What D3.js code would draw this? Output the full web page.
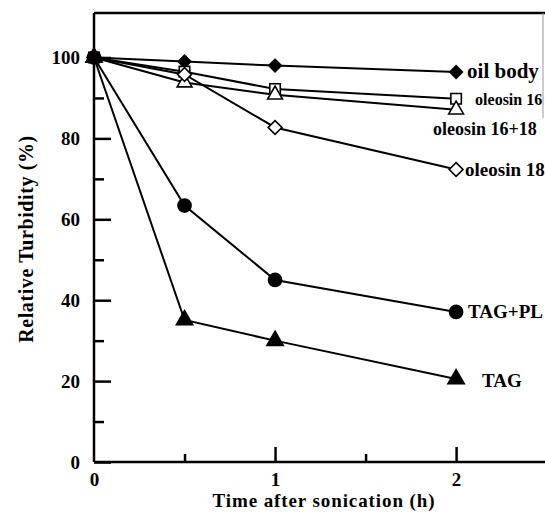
<!DOCTYPE html>
<html>
<head>
<meta charset="utf-8">
<script src="https://cdn.jsdelivr.net/npm/d3@7"></script>
<style>
  body { margin: 0; background: #fff; }
  svg { display: block; }
  text { font-family: 'Liberation Serif', 'Times New Roman', serif; font-weight: bold; fill: #000; }
  .axis path, .axis line { stroke: #000; stroke-width: 2.5; }
  .axis text { font-size: 19px; }
</style>
</head>
<body>
<div id="chart"></div>
<script>
// Time points (h)
var times = [0, 0.5, 1, 2]

// Relative turbidity (%) for each preparation
var oilBody = [100, 99, 98, 96.4]
var oleosin16 = [100, 96.5, 92.2, 89.8]
var oleosin1618 = [100, 93.8, 90.8, 87.1]
var oleosin18 = [100, 95.8, 82.7, 72.3]
var tagPl = [100, 63.4, 45, 37.1]
var tag = [100, 35.1, 30, 20.5]

var seriesNames = ['oil body', 'oleosin 16', 'oleosin 16+18', 'oleosin 18', 'TAG+PL', 'TAG']
var seriesValues = [oilBody, oleosin16, oleosin1618, oleosin18, tagPl, tag]

var yTicks = [0, 20, 40, 60, 80, 100]
var yMinorTicks = [10, 30, 50, 70, 90]
var xTicks = [0, 1, 2]
var xMinorTicks = [0.5, 1.5]

var width = 545
var height = 515

var svg = d3.select('#chart')
  .append('svg')
  .attr('width', width)
  .attr('height', height)

var xPositionScale = d3.scaleLinear().domain([0, 2.48]).range([94, 543])
var yPositionScale = d3.scaleLinear().domain([0, 111]).range([462, 13])

// Marker look + label placement per series (same order as seriesNames)
// diamonds are squares turned by 45 degrees
var styles = [
  { shape: d3.symbolSquare, rot: 45, size: 80, fill: '#000', dx: 11, dy: 6, fs: 21 },
  { shape: d3.symbolSquare, rot: 0, size: 110, fill: '#fff', dx: 19, dy: 6, fs: 16 },
  { shape: d3.symbolTriangle, rot: 0, size: 95, fill: '#fff', dx: -23, dy: 25, fs: 18 },
  { shape: d3.symbolSquare, rot: 45, size: 95, fill: '#fff', dx: 9, dy: 6, fs: 19 },
  { shape: d3.symbolCircle, rot: 0, size: 135, fill: '#000', dx: 12, dy: 6, fs: 19 },
  { shape: d3.symbolTriangle, rot: 0, size: 115, fill: '#000', dx: 26, dy: 8, fs: 19 }
]

var line = d3.line()
  .x((d, i) => xPositionScale(times[i]))
  .y(d => yPositionScale(d))

// frame: top edge and a faint right edge
svg.append('line')
  .attr('x1', xPositionScale(0)).attr('x2', 545)
  .attr('y1', yPositionScale(111)).attr('y2', yPositionScale(111))
  .attr('stroke', '#000').attr('stroke-width', 2.5)
svg.append('line')
  .attr('x1', 543).attr('x2', 543)
  .attr('y1', yPositionScale(111)).attr('y2', yPositionScale(85))
  .attr('stroke', '#999').attr('stroke-width', 1)

// axes
var yAxis = d3.axisLeft(yPositionScale).tickValues(yTicks).tickSize(-17).tickPadding(14)
svg.append('g')
  .attr('class', 'axis y-axis')
  .attr('transform', `translate(${xPositionScale(0)}, 0)`)
  .call(yAxis)
  .call(g => g.select('.domain').attr('d', `M0,${yPositionScale(0)}V${yPositionScale(111)}`))

svg.append('g')
  .attr('class', 'axis y-minor')
  .attr('transform', `translate(${xPositionScale(0)}, 0)`)
  .call(d3.axisLeft(yPositionScale).tickValues(yMinorTicks).tickSize(-10).tickFormat(''))
  .call(g => g.select('.domain').remove())

var xAxis = d3.axisBottom(xPositionScale)
  .tickValues(xTicks)
  .tickFormat(d3.format('d'))
  .tickSize(-15)
  .tickPadding(11)
svg.append('g')
  .attr('class', 'axis x-axis')
  .attr('transform', `translate(0, ${yPositionScale(0)})`)
  .call(xAxis)
  .call(g => g.select('.domain').attr('d', `M${xPositionScale(0)},0H545`))
  .call(g => g.selectAll('.tick').filter(d => d === 0).select('line').remove())

svg.append('g')
  .attr('class', 'axis x-minor')
  .attr('transform', `translate(0, ${yPositionScale(0)})`)
  .call(d3.axisBottom(xPositionScale).tickValues(xMinorTicks).tickSize(-8).tickFormat(''))
  .call(g => g.select('.domain').remove())

// lines
svg.selectAll('.series-line')
  .data(seriesValues)
  .enter()
  .append('path')
  .attr('class', 'series-line')
  .attr('d', line)
  .attr('fill', 'none')
  .attr('stroke', '#000')
  .attr('stroke-width', 2)

// markers and end labels
seriesValues.forEach(function (values, s) {
  var st = styles[s]
  svg.selectAll('.marker-' + s)
    .data(values)
    .enter()
    .append('path')
    .attr('class', 'marker-' + s)
    .attr('d', d3.symbol().type(st.shape).size(st.size))
    .attr('transform', (d, i) => `translate(${xPositionScale(times[i])}, ${yPositionScale(d)}) rotate(${st.rot})`)
    .attr('fill', st.fill)
    .attr('stroke', '#000')
    .attr('stroke-width', 1.6)

  svg.append('text')
    .text(seriesNames[s])
    .attr('x', xPositionScale(times[times.length - 1]) + st.dx)
    .attr('y', yPositionScale(values[values.length - 1]) + st.dy)
    .attr('font-size', st.fs)
})

// axis titles
svg.append('text')
  .text('Time after sonication (h)')
  .attr('x', 324)
  .attr('y', 507)
  .attr('text-anchor', 'middle')
  .attr('font-size', 19)
  .attr('letter-spacing', 0.9)

svg.append('text')
  .text('Relative Turbidity (%)')
  .attr('transform', 'translate(33, 239) rotate(-90)')
  .attr('text-anchor', 'middle')
  .attr('font-size', 20)
  .attr('letter-spacing', 0.6)
</script>
</body>
</html>
